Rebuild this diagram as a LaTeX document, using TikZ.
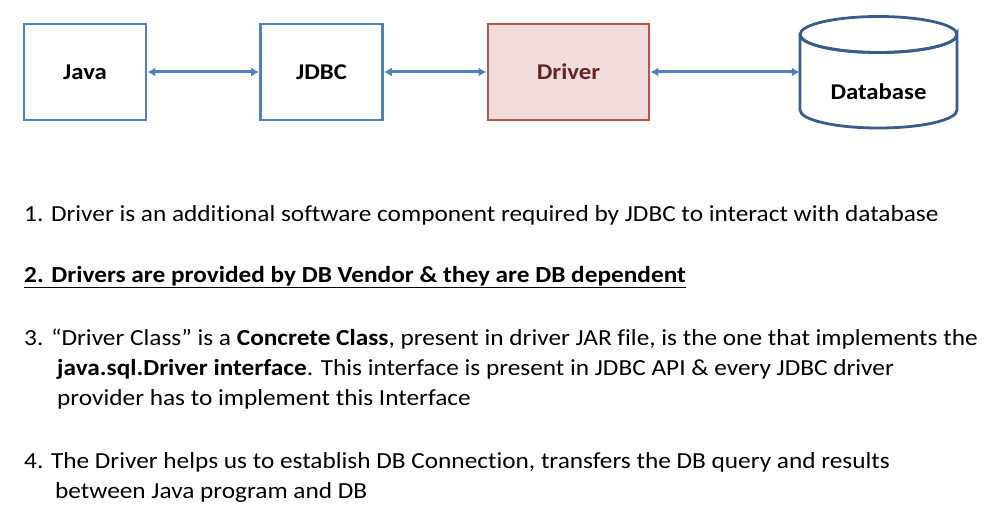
\documentclass[tikz,border=0pt]{standalone}
\usepackage{fontspec}
\setmainfont{Carlito}[FakeStretch=1.1, Ligatures=NoCommon]
\usetikzlibrary{arrows.meta}
\definecolor{boxblue}{RGB}{79,129,189}
\definecolor{dbblue}{RGB}{56,93,138}
\definecolor{driverred}{RGB}{192,80,77}
\definecolor{driverfill}{RGB}{242,220,219}
\definecolor{drivertext}{RGB}{99,37,35}
\tikzstyle{layer}=[draw=boxblue, line width=2.8pt, minimum width=122pt, minimum height=96pt, font=\fontsize{22.5}{26}\selectfont\bfseries]
\tikzstyle{link}=[draw=boxblue, line width=3pt, {Latex[length=8pt,width=9pt]}-{Latex[length=8pt,width=9pt]}]
\tikzstyle{point}=[anchor=base west, inner sep=0pt, font=\fontsize{23}{27}\selectfont]

\begin{document}
\begin{tikzpicture}[x=1pt, y=-1pt]
            \useasboundingbox (0, 0) rectangle (1006, 532);

            \node[layer] (java) at (85, 72) {Java};
            \node[layer] (jdbc) at (321.5, 72) {JDBC};
            \node[layer, draw=driverred, fill=driverfill, text=drivertext,
                minimum width=161pt] (driver) at (568.5, 72) {Driver};
            \draw[dbblue, line width=2.8pt] (800, 34.5) -- (800, 110)
                arc[start angle=180, end angle=0, x radius=78.5, y radius=18]
                -- (957, 34.5)
                arc[start angle=0, end angle=360, x radius=78.5, y radius=18];
            \draw[dbblue, line width=2.8pt] (800, 34.5)
                arc[start angle=180, end angle=0, x radius=78.5, y radius=18];
            \node[inner sep=0pt, minimum width=157pt, minimum height=60pt] (db) at (878.5, 82) {};
            \node[font=\fontsize{22.5}{26}\selectfont\bfseries] (dblabel) at (878.5, 92) {Database};

            \draw[link] (java) -- (jdbc);
            \draw[link] (jdbc) -- (driver);
            \draw[link] (driver.east) -- (db.west |- driver.east);

            \node[point] (item1) at (24, 221)
                {1. Driver is an additional software component required by JDBC to interact with database};
            \node[point, font=\fontsize{23}{27}\selectfont\bfseries] (item2) at (24, 282)
                {\underline{2. Drivers are provided by DB Vendor \& they are DB dependent}};
            \node[point] (item3) at (24, 345)
                {3. \textquotedblleft Driver Class\textquotedblright\ is a \textbf{Concrete Class}, present in driver JAR file, is the one that implements the};
            \node[point] (item3b) at (57, 375)
                {\textbf{java.sql.Driver interface}. This interface is present in JDBC API \& every JDBC driver};
            \node[point] (item3c) at (57, 405)
                {provider has to implement this Interface};
            \node[point] (item4) at (24, 468)
                {4. The Driver helps us to establish DB Connection, transfers the DB query and results};
            \node[point] (item4b) at (55, 498)
                {between Java program and DB};
        \end{tikzpicture}
\end{document}
